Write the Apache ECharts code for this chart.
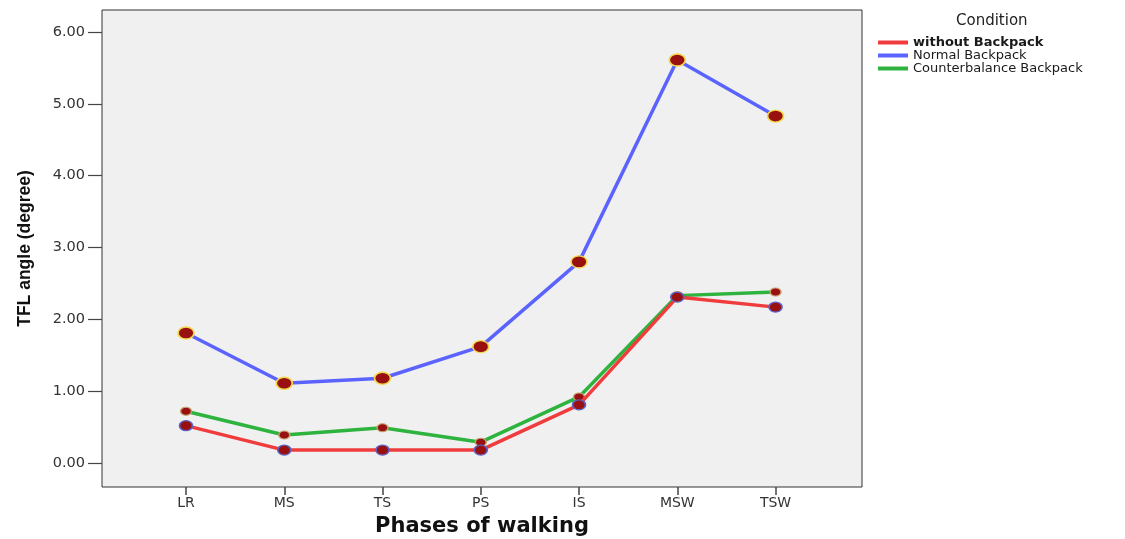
<!DOCTYPE html>
<html><head><meta charset="utf-8">
<script src="https://cdn.jsdelivr.net/npm/echarts@6/dist/echarts.min.js"></script>
<style>html,body{margin:0;padding:0;background:#fff}#c{width:1125px;height:539px}</style>
</head><body><div id="c"></div>
<script>
const categories = ['LR','MS','TS','PS','IS','MSW','TSW'];
const withoutBackpack = [0.52,0.18,0.18,0.18,0.81,2.31,2.17];
const normalBackpack = [1.81,1.11,1.18,1.62,2.80,5.61,4.83];
const counterBackpack = [0.72,0.39,0.49,0.29,0.92,2.33,2.38];
const yTicks = [0,1,2,3,4,5,6];
const seriesNames = ['without Backpack','Normal Backpack','Counterbalance Backpack'];

const chart = echarts.init(document.getElementById('c'));
const font = 'DejaVu Sans, sans-serif';
const xTicks = categories.map((c,i)=>i);
function pts(arr){ return arr.map((v,i)=>[i,v]); }
chart.setOption({
  animation:false,
  title:{text:'Condition', left:956, top:14, padding:0, textStyle:{fontFamily:font, fontSize:15, fontWeight:'normal', color:'#222'}},
  legend:{
    orient:'vertical', left:878, top:36, padding:0, itemGap:0, itemWidth:30, itemHeight:4, icon:'rect',
    textStyle:{fontFamily:font, fontSize:13, color:'#1a1a1a', padding:[0,0,0,0]},
    data:[
      {name:seriesNames[0], itemStyle:{color:'#f03c3c', borderWidth:0}, textStyle:{fontWeight:'bold', fontSize:13}},
      {name:seriesNames[1], itemStyle:{color:'#5b63ff', borderWidth:0}},
      {name:seriesNames[2], itemStyle:{color:'#2eb33e', borderWidth:0}}
    ]
  },
  grid:{left:102, top:10, right:263, bottom:52, outerBoundsMode:'none', containLabel:false, show:true, backgroundColor:'#f0f0f0', borderColor:'#333', borderWidth:1},
  xAxis:{
    type:'value', min:-0.855, max:6.88,
    name:'Phases of walking', nameLocation:'middle', nameGap:29,
    nameTextStyle:{fontFamily:font, fontSize:21, fontWeight:'bold', color:'#111'},
    axisLine:{show:false, onZero:false}, splitLine:{show:false},
    axisTick:{show:true, customValues:xTicks, length:8, lineStyle:{color:'#444', width:1.5}},
    axisLabel:{customValues:xTicks, formatter:v=>categories[Math.round(v)], fontFamily:font, fontSize:14, color:'#333', margin:9}
  },
  yAxis:{
    type:'value', min:-0.334, max:6.306,
    name:'TFL angle (degree)', nameLocation:'middle', nameGap:68, nameRotate:90,
    nameTextStyle:{fontFamily:'Liberation Sans, Arial, sans-serif', fontSize:17.5, fontWeight:'bold', color:'#111'},
    axisLine:{show:false, onZero:false}, splitLine:{show:false},
    axisTick:{show:true, customValues:yTicks, length:14, lineStyle:{color:'#444', width:1.2}},
    axisLabel:{customValues:yTicks, formatter:v=>v.toFixed(2), fontFamily:font, fontSize:14.5, color:'#333', margin:17}
  },
  series:[
    {name:seriesNames[0], type:'line', data:pts(withoutBackpack), z:3,
     lineStyle:{color:'#f03c3c', width:3.5}, symbol:'circle', symbolSize:[13,10],
     itemStyle:{color:'#981010', borderColor:'#5a63c8', borderWidth:1.5}},
    {name:seriesNames[1], type:'line', data:pts(normalBackpack), z:2,
     lineStyle:{color:'#5b63ff', width:3.5}, symbol:'circle', symbolSize:[16,12],
     itemStyle:{color:'#981010', borderColor:'#f2d84a', borderWidth:1.5}},
    {name:seriesNames[2], type:'line', data:pts(counterBackpack), z:2,
     lineStyle:{color:'#2eb33e', width:3.5}, symbol:'circle', symbolSize:[11,8],
     itemStyle:{color:'#981010', borderColor:'#c8a070', borderWidth:1.2}}
  ]
});
</script></body></html>
